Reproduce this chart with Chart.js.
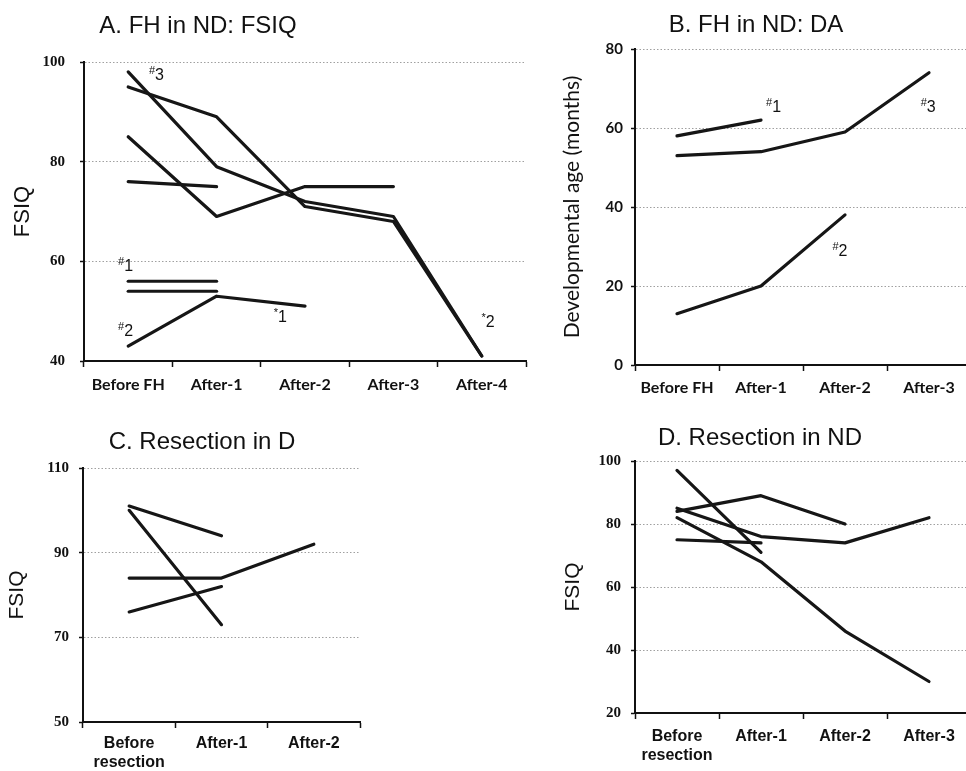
<!DOCTYPE html>
<html><head><meta charset="utf-8">
<script src="https://cdn.jsdelivr.net/npm/chart.js@4"></script>
<style>
html,body{margin:0;padding:0;background:#fff;overflow:hidden;width:966px;height:771px}
#wrap{position:relative;width:966px;height:771px;overflow:hidden;background:#fff}
canvas{position:absolute}
.ttl{position:absolute;width:320px;text-align:center;font-family:Arial,"Liberation Sans",sans-serif;font-size:24px;line-height:24px;color:#111;white-space:nowrap}
</style></head><body>
<div id="wrap">
<canvas id="cA" width="545" height="400" style="left:0;top:0"></canvas>
<canvas id="cB" width="431" height="400" style="left:545px;top:0"></canvas>
<canvas id="cC" width="545" height="371" style="left:0;top:400px"></canvas>
<canvas id="cD" width="431" height="371" style="left:545px;top:400px"></canvas>
<div class="ttl" style="left:38px;top:13px">A. FH in ND: FSIQ</div>
<div class="ttl" style="left:596px;top:12px">B. FH in ND: DA</div>
<div class="ttl" style="left:42px;top:429px">C. Resection in D</div>
<div class="ttl" style="left:600px;top:425px">D. Resection in ND</div>
</div>
<script>
// ---------- data ----------
const catsA = ['Before FH', 'After-1', 'After-2', 'After-3', 'After-4'];
const a1 = [98, 79, 72, 69, 41];
const a2 = [95, 89, 71, 68, 41];
const a3 = [85, 69, 75, 75, null];
const a4 = [76, 75, null, null, null];
const a5 = [56, 56, null, null, null];
const a6 = [54, 54, null, null, null];
const a7 = [43, 53, 51, null, null];
const ticksA = [40, 60, 80, 100];
const notesA = [
  {text: '#3', at: 0.32, value: 97.5},
  {text: '#1', at: -0.03, value: 59.2},
  {text: '#2', at: -0.03, value: 46.2},
  {text: '*1', at: 1.72, value: 49.0},
  {text: '*2', at: 4.07, value: 48.0}
];

const catsB = ['Before FH', 'After-1', 'After-2', 'After-3'];
const b1 = [58, 62, null, null];
const b2 = [53, 54, 59, 74];
const b3 = [13, 20, 38, null];
const ticksB = [0, 20, 40, 60, 80];
const notesB = [
  {text: '#1', at: 1.15, value: 65.6},
  {text: '#3', at: 2.99, value: 65.4},
  {text: '#2', at: 1.94, value: 29.1}
];

const catsC = [['Before', 'resection'], 'After-1', 'After-2'];
const c1 = [101, 94, null];
const c2 = [100, 73, null];
const c3 = [84, 84, 92];
const c4 = [76, 82, null];
const ticksC = [50, 70, 90, 110];

const catsD = [['Before', 'resection'], 'After-1', 'After-2', 'After-3'];
const d1 = [97, 71, null, null];
const d2 = [84, 89, 80, null];
const d3 = [85, 76, 74, 82];
const d4 = [82, 68, 46, 30];
const d5 = [75, 74, null, null];
const ticksD = [20, 40, 60, 80, 100];

// ---------- plugin for the case labels ----------
const notesPlugin = {
  id: 'seriesNotes',
  afterDatasetsDraw(chart, args, opts) {
    const notes = opts.notes || [];
    if (!notes.length) return;
    const ctx = chart.ctx, x = chart.scales.x, y = chart.scales.y;
    const fam = opts.family, size = opts.size, ms = opts.markSize;
    ctx.save();
    ctx.fillStyle = '#111';
    ctx.textBaseline = 'alphabetic';
    ctx.textAlign = 'left';
    notes.forEach(n => {
      const px = x.getPixelForValue(n.at);
      const py = y.getPixelForValue(n.value);
      const mark = n.text[0], num = n.text.slice(1);
      ctx.font = ms + 'px ' + fam;
      const mw = ctx.measureText(mark).width;
      ctx.font = size + 'px ' + fam;
      const nw = ctx.measureText(num).width;
      const left = px - (mw + nw) / 2;
      const base = py + size * 0.36;
      ctx.fillText(num, left + mw, base);
      ctx.font = ms + 'px ' + fam;
      ctx.fillText(mark, left, base - size * 0.38);
    });
    ctx.restore();
  }
};

const ARIAL = 'Arial, "Liberation Sans", sans-serif';
const SERIF = '"Liberation Serif", "Times New Roman", serif';
const LATO = 'Lato, "Open Sans", sans-serif';

function build(id, p) {
  return new Chart(document.getElementById(id), {
    type: 'line',
    data: {
      labels: p.labels,
      datasets: p.series.map(s => ({
        data: s, borderColor: '#161616', backgroundColor: '#161616', borderWidth: 3.2,
        pointRadius: 0, pointHoverRadius: 0, tension: 0, fill: false,
        borderJoinStyle: 'round', borderCapStyle: 'round', spanGaps: false
      }))
    },
    options: {
      responsive: false, animation: false, devicePixelRatio: 1,
      events: [],
      layout: {padding: {left: 0, top: p.padTop, right: p.padRight, bottom: 0}},
      plugins: {
        legend: {display: false}, tooltip: {enabled: false}, title: {display: false},
        seriesNotes: {notes: p.notes || [], family: ARIAL, size: 16, markSize: 11}
      },
      scales: {
        x: {
          type: 'category', offset: true,
          grid: {display: true, offset: true, drawOnChartArea: false, drawTicks: true,
                 tickLength: 6, tickColor: '#111', tickWidth: 1.5, color: '#111'},
          border: {display: true, color: '#111', width: 2},
          ticks: {color: '#111', font: p.xFont, padding: p.xPad, maxRotation: 0, autoSkip: false},
          afterFit: s => { s.height = p.xHeight; }
        },
        y: {
          min: p.yTicks[0], max: p.yTicks[p.yTicks.length - 1],
          afterBuildTicks: s => { s.ticks = p.yTicks.map(v => ({value: v})); },
          ticks: {color: '#111', font: p.yFont, padding: p.yPad},
          grid: {color: '#a0a0a0', lineWidth: 1, drawTicks: true, tickLength: 4,
                 tickColor: '#111', tickWidth: 1.5},
          border: {display: true, color: '#111', width: 2, dash: [1.5, 2]},
          title: {display: true, text: p.yTitle, font: p.yTitleFont, color: '#111',
                  padding: {top: p.yTitlePad, bottom: 0}},
          afterFit: s => { s.width = p.yWidth; }
        }
      }
    },
    plugins: [notesPlugin]
  });
}

build('cA', {
  labels: catsA, series: [a1, a2, a3, a4, a5, a6, a7], yTicks: ticksA, notes: notesA,
  padTop: 62, padRight: 19, yWidth: 84, xHeight: 39,
  xFont: {family: LATO, size: 16, weight: 'bold'}, xPad: 8,
  yFont: {family: SERIF, size: 15, weight: 'bold'}, yPad: 15,
  yTitle: 'FSIQ', yTitleFont: {family: ARIAL, size: 22}, yTitlePad: 10
});
build('cB', {
  labels: catsB, series: [b1, b2, b3], yTicks: ticksB, notes: notesB,
  padTop: 49, padRight: 5, yWidth: 90, xHeight: 35,
  xFont: {family: LATO, size: 16, weight: 'bold'}, xPad: 7,
  yFont: {family: LATO, size: 15, weight: 'bold'}, yPad: 8,
  yTitle: 'Developmental age (months)', yTitleFont: {family: LATO, size: 21}, yTitlePad: 15
});
build('cC', {
  labels: catsC, series: [c1, c2, c3, c4], yTicks: ticksC,
  padTop: 68, padRight: 185, yWidth: 83, xHeight: 49,
  xFont: {family: ARIAL, size: 16, weight: 'bold'}, xPad: 6,
  yFont: {family: SERIF, size: 15, weight: 'bold'}, yPad: 10,
  yTitle: 'FSIQ', yTitleFont: {family: ARIAL, size: 21}, yTitlePad: 5
});
build('cD', {
  labels: catsD, series: [d1, d2, d3, d4, d5], yTicks: ticksD,
  padTop: 61, padRight: 5, yWidth: 90, xHeight: 58,
  xFont: {family: ARIAL, size: 16, weight: 'bold'}, xPad: 8,
  yFont: {family: SERIF, size: 15, weight: 'bold'}, yPad: 10,
  yTitle: 'FSIQ', yTitleFont: {family: ARIAL, size: 21}, yTitlePad: 16
});
</script>
</body></html>
